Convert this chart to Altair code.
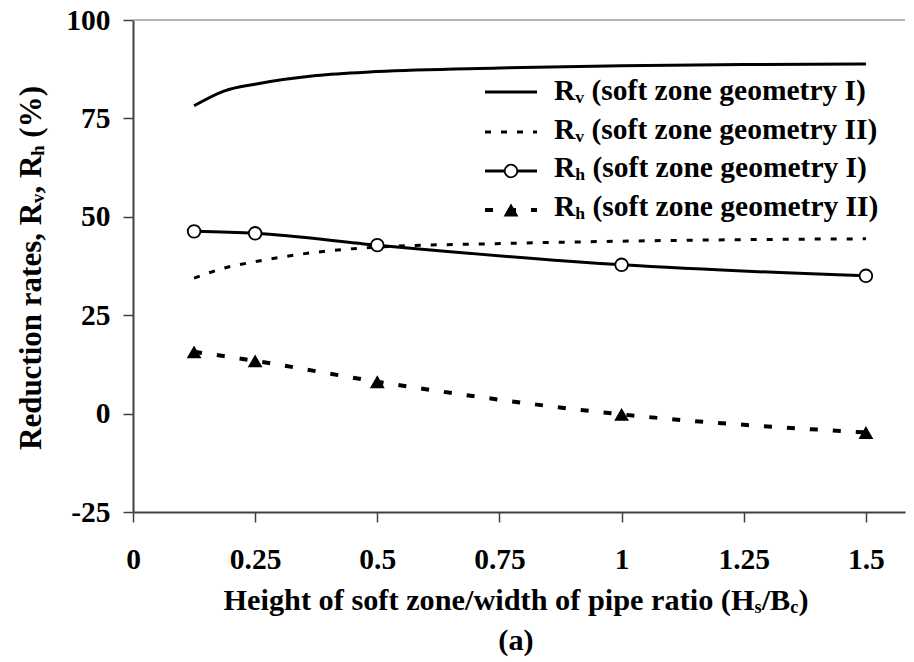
import altair as alt
import pandas as pd

# ---------------- data ----------------
x_rv = [0.125, 0.1875, 0.25, 0.375, 0.5, 0.75, 1.0, 1.25, 1.5]
rv_geom1 = [78.2, 82.0, 83.7, 85.9, 86.9, 87.8, 88.4, 88.7, 88.8]
rv_geom2 = [34.4, 37.0, 38.6, 41.0, 42.3, 43.2, 43.8, 44.2, 44.4]
x_rh = [0.125, 0.25, 0.5, 1.0, 1.5]
rh_geom1 = [46.3, 45.8, 42.8, 37.8, 35.0]
rh_geom2 = [15.7, 13.4, 8.1, -0.2, -4.8]
x_ticks = [0, 0.25, 0.5, 0.75, 1, 1.25, 1.5]
y_ticks = [-25, 0, 25, 50, 75, 100]
legend_main = ["R", "R", "R", "R"]
legend_sub = ["v", "v", "h", "h"]
legend_rest = [" (soft zone geometry I)", " (soft zone geometry II)",
               " (soft zone geometry I)", " (soft zone geometry II)"]
x_title = [("Height of soft zone/width of pipe ratio (H", False), ("s", True),
           ("/B", False), ("c", True), (")", False)]
y_title = [("Reduction rates, R", False), ("v", True), (", R", False),
           ("h", True), (" (%)", False)]
caption = "(a)"

# ---------------- styling ----------------
FONT = "Liberation Serif"
FS = 29.5      # tick labels
FS_LEG = 29.5  # legend
FS_XT = 30.3   # x title
FS_YT = 31     # y title
SUBR = 0.6
SUBOFF = 3
W, H = 772, 492
AXC = "#404040"

# Times-Bold advance widths (per 1000 em), metric-compatible with Liberation Serif Bold
TW = {' ': 250, '(': 333, ')': 333, '%': 1000, ',': 250, '/': 278, 'B': 667, 'H': 778,
      'I': 389, 'R': 722, 'a': 500, 'c': 444, 'd': 556, 'e': 444, 'f': 333, 'g': 500,
      'h': 556, 'i': 278, 'm': 833, 'n': 556, 'o': 500, 'p': 556, 'r': 444, 's': 389,
      't': 333, 'u': 556, 'v': 500, 'w': 722, 'y': 500, 'z': 444, 'l': 278}


def tw(s, size):
    return sum(TW.get(c, 500) for c in s) / 1000.0 * size


dummy = pd.DataFrame({"k": [0]})


def txt(s, px, py, size, angle=0, align="left"):
    kw = dict(text=s, font=FONT, fontWeight="bold", fontSize=size, color="black",
              align=align, baseline="alphabetic")
    if angle:
        kw["angle"] = angle
    return alt.Chart(dummy).mark_text(**kw).encode(x=alt.value(px), y=alt.value(py))


def rich(pieces, x0, y0, size, rotate=False):
    layers = []
    pos = 0.0
    for s, sub in pieces:
        fs = size * SUBR if sub else size
        off = SUBOFF if sub else 0
        lead = len(s) - len(s.lstrip(" "))
        pos += tw(" " * lead, fs)
        body = s.lstrip(" ")
        if rotate:
            layers.append(txt(body, x0 + off, y0 - pos, fs, angle=270))
        else:
            layers.append(txt(body, x0 + pos, y0 + off, fs))
        pos += tw(body, fs)
    return layers


def rich_width(pieces, size):
    return sum(tw(s, size * SUBR if sub else size) for s, sub in pieces)


# ---------------- data frames ----------------
df_rv = pd.DataFrame({"x": x_rv, "rv1": rv_geom1, "rv2": rv_geom2})
df_rh = pd.DataFrame({"x": x_rh, "rh1": rh_geom1, "rh2": rh_geom2})

xscale = alt.Scale(domain=[0, 1.58], nice=False, zero=False)
yscale = alt.Scale(domain=[-25, 100], nice=False, zero=False)
xaxis = alt.Axis(values=x_ticks, labelExpr="datum.value + ''", title=None, grid=False,
                 labelFont=FONT, labelFontWeight="bold", labelFontSize=FS,
                 labelColor="black", tickColor=AXC, tickSize=10, tickWidth=1.5,
                 domainColor=AXC, domainWidth=2, labelPadding=46,
                 labelBaseline="alphabetic", labelFlush=False, labelOverlap=False)
yaxis = alt.Axis(values=y_ticks, labelExpr="datum.value + ''", title=None, grid=False,
                 labelFont=FONT, labelFontWeight="bold", labelFontSize=FS,
                 labelColor="black", tickColor=AXC, tickSize=10, tickWidth=1.5,
                 domainColor=AXC, domainWidth=2, labelPadding=13,
                 labelFlush=False, labelOverlap=False)

base_rv = alt.Chart(df_rv)
base_rh = alt.Chart(df_rh)

line_rv1 = base_rv.mark_line(interpolate="monotone", color="black", strokeWidth=3).encode(
    x=alt.X("x:Q", scale=xscale, axis=xaxis),
    y=alt.Y("rv1:Q", scale=yscale, axis=yaxis))
line_rv2 = base_rv.mark_line(interpolate="monotone", color="black", strokeWidth=3,
                             strokeDash=[6, 10]).encode(x="x:Q", y="rv2:Q")
line_rh1 = base_rh.mark_line(interpolate="monotone", color="black", strokeWidth=3).encode(
    x="x:Q", y="rh1:Q")
line_rh2 = base_rh.mark_line(interpolate="monotone", color="black", strokeWidth=4,
                             strokeDash=[8, 15]).encode(x="x:Q", y="rh2:Q")
pts_rh1 = base_rh.mark_point(shape="circle", filled=True, fill="white", stroke="black",
                             strokeWidth=1.8, size=160, opacity=1).encode(x="x:Q", y="rh1:Q")
pts_rh2 = base_rh.mark_point(shape="triangle-up", filled=True, color="black",
                             size=220, opacity=1).encode(x="x:Q", y="rh2:Q")

top_border = alt.Chart(dummy).mark_rule(color="#9a9a9a", strokeWidth=1.5).encode(
    y=alt.datum(100))

layers = [top_border, line_rv1, line_rv2, line_rh1, line_rh2, pts_rh1, pts_rh2]

# ---------------- legend ----------------
LX0, LX1, LXT = 352, 404, 421
row_base = [80, 118.5, 157, 195.5]
row_sym = [72, 112, 151, 190]
styles = [dict(strokeWidth=3), dict(strokeWidth=3, strokeDash=[6, 10]),
          dict(strokeWidth=3), dict(strokeWidth=4, strokeDash=[8, 15])]
for i in range(4):
    layers.append(alt.Chart(dummy).mark_rule(color="black", **styles[i]).encode(
        x=alt.value(LX0), x2=alt.value(LX1), y=alt.value(row_sym[i])))
    layers += rich([(legend_main[i], False), (legend_sub[i], True), (legend_rest[i], False)],
                   LXT, row_base[i], FS_LEG)
mid = (LX0 + LX1) / 2
layers.append(alt.Chart(dummy).mark_point(shape="circle", filled=True, fill="white",
                                          stroke="black", strokeWidth=1.8, size=160,
                                          opacity=1).encode(
    x=alt.value(mid), y=alt.value(row_sym[2])))
layers.append(alt.Chart(dummy).mark_point(shape="triangle-up", filled=True, color="black",
                                          size=220, opacity=1).encode(
    x=alt.value(mid), y=alt.value(row_sym[3])))

# ---------------- titles ----------------
xw = rich_width(x_title, FS_XT)
layers += rich(x_title, W / 2 - 3 - xw / 2, 590, FS_XT)
layers.append(txt(caption, W / 2 - 3, 630, FS_XT, align="center"))
yw = rich_width(y_title, FS_YT)
layers += rich(y_title, -92, H / 2 + 2 + yw / 2, FS_YT, rotate=True)

chart = alt.layer(*layers).properties(
    width=W, height=H,
    autosize=alt.AutoSizeParams(type="none"),
    padding={"left": 133, "top": 20, "right": 9, "bottom": 150},
    background="white",
).configure_view(stroke=None)

chart.save("out.html", embed_options={"renderer": "svg", "actions": False})
